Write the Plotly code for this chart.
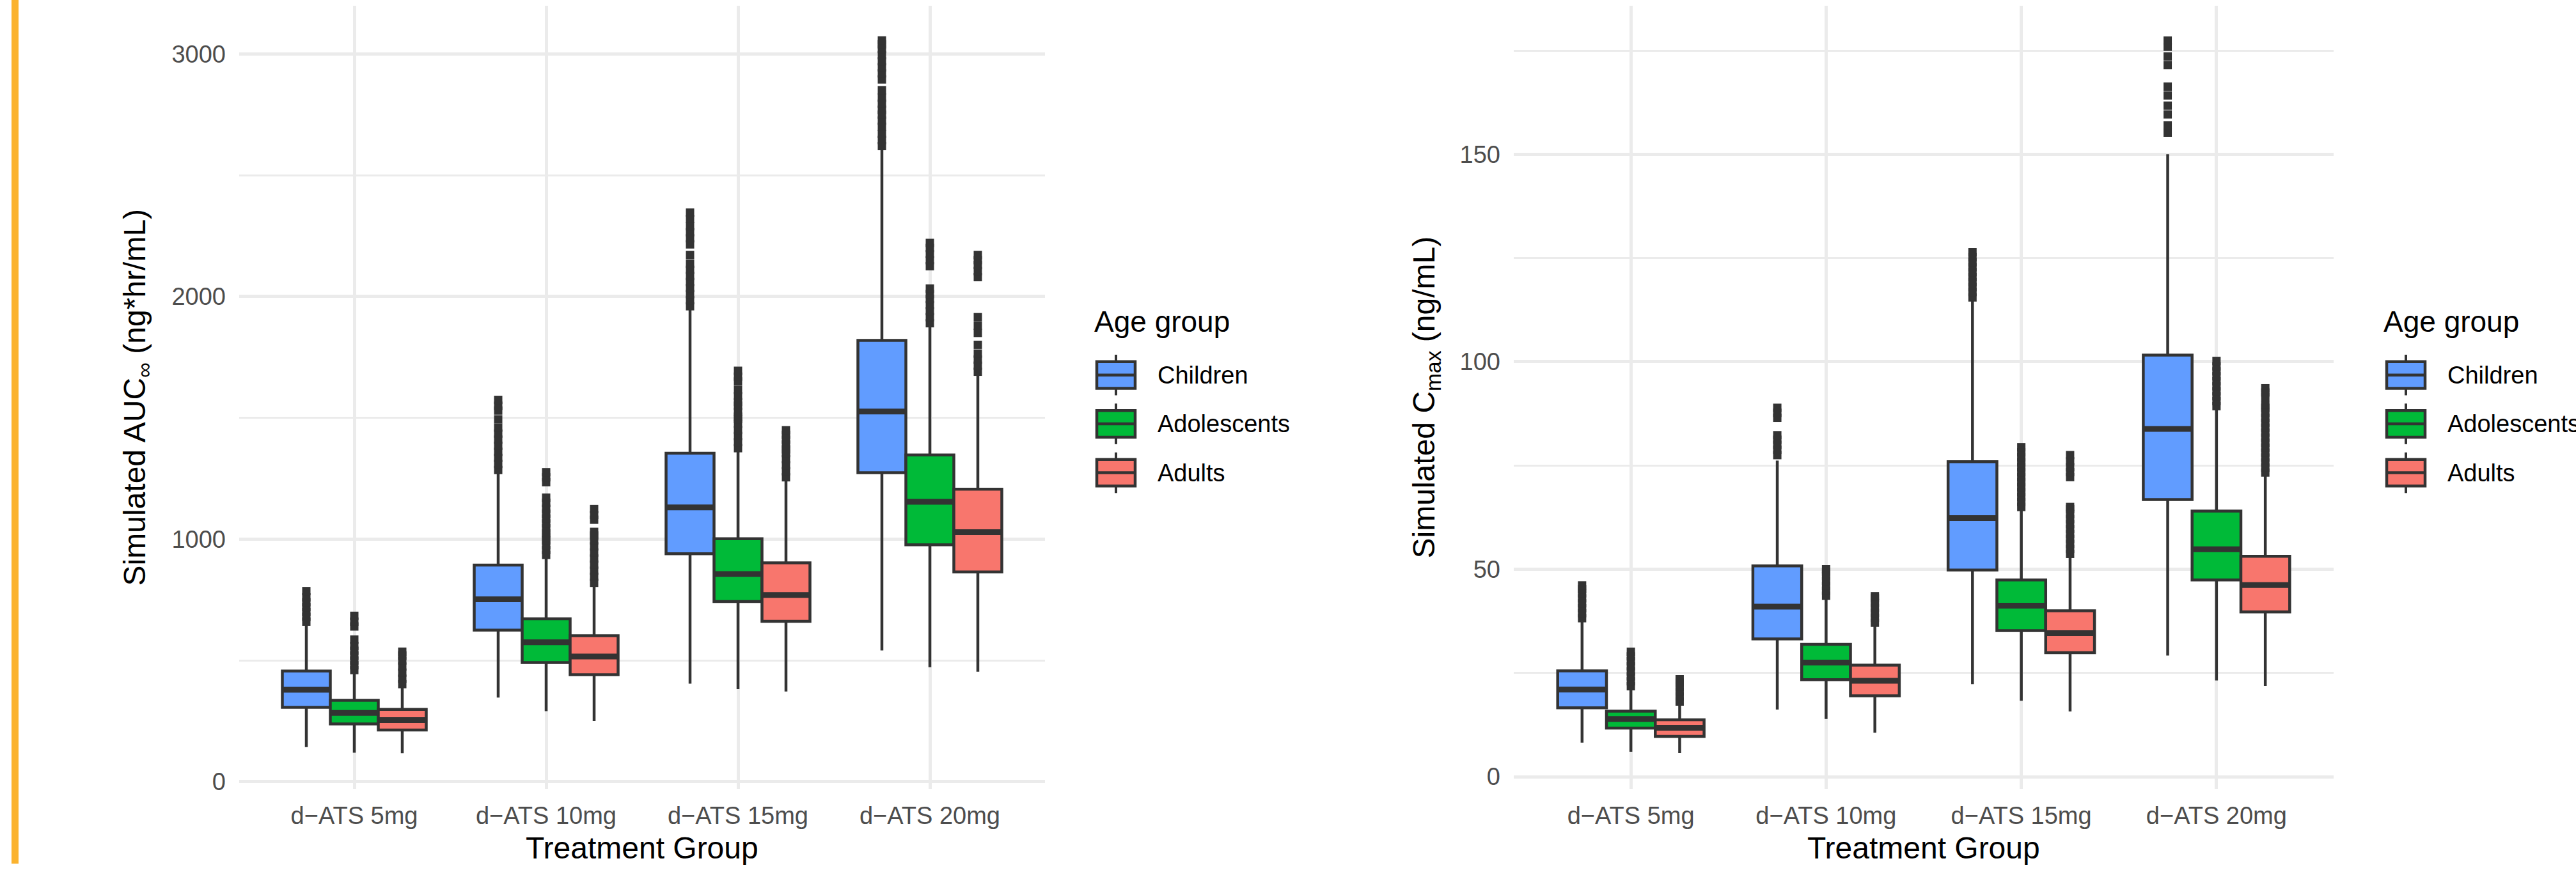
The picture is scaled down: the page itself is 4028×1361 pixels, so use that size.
import plotly.graph_objects as go

W, H = 4028, 1361

# ---------------- data ----------------
categories = ["d\u2212ATS 5mg", "d\u2212ATS 10mg", "d\u2212ATS 15mg", "d\u2212ATS 20mg"]
groups = ["Children", "Adolescents", "Adults"]
group_colors = ["#619CFF", "#00BA38", "#F8766D"]

# AUC (ng*hr/mL) box statistics, per group, per dose
auc_q1 = {"Children": [307, 625, 940, 1274], "Adolescents": [238, 491, 743, 977], "Adults": [213, 441, 661, 865]}
auc_median = {"Children": [379, 752, 1131, 1526], "Adolescents": [284, 575, 856, 1154], "Adults": [254, 516, 770, 1029]}
auc_q3 = {"Children": [456, 893, 1354, 1819], "Adolescents": [336, 672, 1002, 1347], "Adults": [298, 602, 902, 1206]}
auc_low = {"Children": [143, 347, 404, 541], "Adolescents": [120, 291, 382, 472], "Adults": [118, 250, 372, 454]}
auc_high = {"Children": [654, 1279, 1955, 2612], "Adolescents": [454, 931, 1370, 1881], "Adults": [397, 818, 1249, 1683]}

auc_out_children = [
    [660, 680, 700, 720, 740, 760, 786],
    [1285, 1310, 1335, 1360, 1385, 1410, 1435, 1460, 1494, 1530, 1550, 1574],
    [1960, 1985, 2010, 2035, 2060, 2085, 2110, 2135, 2171, 2215, 2240, 2265, 2290, 2320, 2346],
    [2620, 2645, 2670, 2700, 2725, 2750, 2770, 2795, 2820, 2850, 2895, 2920, 2945, 2970, 2995, 3020, 3040, 3056],
]
auc_out_adolescents = [
    [460, 480, 500, 520, 540, 560, 586, 640, 660, 684],
    [935, 955, 975, 995, 1010, 1025, 1045, 1065, 1085, 1105, 1125, 1150, 1171, 1235, 1255, 1276],
    [1375, 1400, 1425, 1450, 1475, 1495, 1505, 1525, 1550, 1565, 1590, 1615, 1650, 1670, 1694],
    [1890, 1915, 1940, 1965, 1990, 2010, 2033, 2125, 2150, 2175, 2200, 2221],
]
auc_out_adults = [
    [402, 425, 450, 475, 500, 520, 536],
    [820, 845, 870, 895, 920, 945, 970, 995, 1015, 1030, 1080, 1100, 1124],
    [1255, 1280, 1305, 1330, 1355, 1370, 1390, 1410, 1430, 1449],
    [1690, 1715, 1740, 1765, 1801, 1850, 1880, 1915, 2080, 2105, 2130, 2150, 2171],
]

# Cmax (ng/mL) box statistics
cmax_q1 = {"Children": [16.6, 33.2, 49.8, 66.8], "Adolescents": [11.7, 23.4, 35.2, 47.4], "Adults": [9.7, 19.5, 29.9, 39.7]}
cmax_median = {"Children": [21.0, 41.0, 62.3, 83.8], "Adolescents": [13.9, 27.5, 41.2, 54.8], "Adults": [11.8, 23.1, 34.6, 46.2]}
cmax_q3 = {"Children": [25.5, 50.8, 75.9, 101.6], "Adolescents": [15.8, 31.9, 47.4, 64.0], "Adults": [13.7, 26.9, 40.0, 53.1]}
cmax_low = {"Children": [8.2, 16.2, 22.3, 29.2], "Adolescents": [6.0, 13.9, 18.3, 23.2], "Adults": [5.7, 10.6, 15.7, 21.9]}
cmax_high = {"Children": [37.6, 76.2, 114.8, 150.0], "Adolescents": [21.2, 43.0, 64.4, 88.7], "Adults": [17.5, 36.5, 53.1, 72.7]}

cmax_out_children = [
    [38.2, 39.4, 40.6, 41.8, 43.0, 44.2, 45.2, 46.1],
    [77.5, 78.8, 80.0, 81.2, 82.3, 86.5, 87.7, 88.9],
    [115.5, 116.8, 118.0, 119.2, 120.4, 121.6, 122.8, 124.0, 125.2, 126.4],
    [155.2, 157.0, 159.6, 161.7, 164.2, 166.3, 171.5, 173.6, 175.9, 177.4],
]
cmax_out_adolescents = [
    [21.8, 23.0, 24.2, 25.4, 26.6, 27.8, 29.0, 30.1],
    [43.6, 44.8, 46.0, 47.2, 48.4, 49.4, 50.0],
    [65.0, 66.2, 67.4, 68.6, 69.8, 71.0, 72.2, 73.4, 74.6, 75.8, 77.0, 78.2, 79.4],
    [89.3, 90.5, 91.7, 92.9, 94.1, 95.3, 96.5, 97.7, 98.9, 100.2],
]
cmax_out_adults = [
    [18.1, 19.3, 20.5, 21.7, 22.7, 23.5],
    [37.1, 38.3, 39.5, 40.7, 41.9, 43.0, 43.5],
    [53.7, 54.9, 56.1, 57.3, 58.5, 59.7, 60.9, 62.1, 63.3, 64.5, 65.0, 72.2, 73.4, 74.6, 76.0, 77.5],
    [73.3, 74.5, 75.7, 76.9, 78.1, 79.3, 80.5, 81.7, 82.9, 84.1, 85.3, 86.5, 87.7, 88.9, 89.6, 91.5, 92.6, 93.6],
]

auc_outliers = {"Children": auc_out_children, "Adolescents": auc_out_adolescents, "Adults": auc_out_adults}
cmax_outliers = {"Children": cmax_out_children, "Adolescents": cmax_out_adolescents, "Adults": cmax_out_adults}

# ---------------- figure ----------------
DARK = "#333333"
GRID = "#EBEBEB"
FONT = "Liberation Sans"
BOXW = 0.25

fig = go.Figure()

panels = [
    ("x", "y", auc_q1, auc_median, auc_q3, auc_low, auc_high, auc_outliers),
    ("x2", "y2", cmax_q1, cmax_median, cmax_q3, cmax_low, cmax_high, cmax_outliers),
]

for xa, ya, q1, med, q3, lo, hi, outs in panels:
    for gi, g in enumerate(groups):
        off = (gi - 1) * BOXW
        pos = [i + 1 + off for i in range(len(categories))]
        fig.add_trace(go.Box(
            x=pos, q1=q1[g], median=med[g], q3=q3[g],
            lowerfence=lo[g], upperfence=hi[g],
            width=BOXW, fillcolor=group_colors[gi],
            line=dict(color=DARK, width=4.5), whiskerwidth=0,
            boxpoints=False, name=g, showlegend=False,
            xaxis=xa, yaxis=ya, hoverinfo="skip",
        ))
        # thick median bars
        mx, my = [], []
        for p, m in zip(pos, med[g]):
            mx += [p - BOXW / 2, p + BOXW / 2, None]
            my += [m, m, None]
        fig.add_trace(go.Scatter(x=mx, y=my, mode="lines",
                                 line=dict(color=DARK, width=9),
                                 xaxis=xa, yaxis=ya, showlegend=False, hoverinfo="skip"))
        # outliers
        ox, oy = [], []
        for p, vals in zip(pos, outs[g]):
            ox += [p] * len(vals)
            oy += vals
        fig.add_trace(go.Scatter(x=ox, y=oy, mode="markers",
                                 marker=dict(symbol="square", size=13, color=DARK, line=dict(width=0)),
                                 xaxis=xa, yaxis=ya, showlegend=False, hoverinfo="skip"))

ydom = [(H - 1243) / H, (H - 9) / H]
xaxis_common = dict(range=[0.4, 4.6], tickmode="array", tickvals=[1, 2, 3, 4], ticktext=categories,
                    showgrid=True, gridcolor=GRID, gridwidth=5, zeroline=False, showline=False,
                    ticks="", tickfont=dict(family=FONT, size=38, color="#4D4D4D"),
                    ticklabelstandoff=16, fixedrange=True)
yaxis_common = dict(showgrid=True, gridcolor=GRID, gridwidth=5, zeroline=False, showline=False,
                    ticks="", tickfont=dict(family=FONT, size=38, color="#4D4D4D"),
                    ticklabelstandoff=20, domain=ydom)

fig.update_layout(
    width=W, height=H, margin=dict(l=0, r=0, t=0, b=0),
    paper_bgcolor="white", plot_bgcolor="white",
    boxmode="overlay", showlegend=False,
    font=dict(family=FONT),
    xaxis=dict(**xaxis_common, domain=[374 / W, 1634 / W], anchor="y"),
    xaxis2=dict(**xaxis_common, domain=[2367 / W, 3649 / W], anchor="y2"),
    yaxis=dict(**yaxis_common, range=[-28.8, 3198.8], tick0=0, dtick=1000, anchor="x",
               minor=dict(tick0=0, dtick=500, showgrid=True, gridcolor=GRID, gridwidth=2.5)),
    yaxis2=dict(**yaxis_common, range=[-2.9, 185.8], tick0=0, dtick=50, anchor="x2",
                minor=dict(tick0=0, dtick=25, showgrid=True, gridcolor=GRID, gridwidth=2.5)),
)

def px(x):
    return x / W

def py(y):
    return 1 - y / H

shapes = []
annotations = []

# orange accent bar at the left edge
shapes.append(dict(type="rect", xref="paper", yref="paper", x0=px(18), x1=px(29), y0=0, y1=1,
                   fillcolor="#FBB32F", line=dict(width=0), layer="below"))

# axis titles
for cx, ytitle, ty in [(1004, "Simulated AUC<sub>\u221e</sub> (ng*hr/mL)", 214),
                       (3008, "Simulated C<sub>max</sub> (ng/mL)", 2230)]:
    annotations.append(dict(text="Treatment Group", x=px(cx), y=py(1336), xref="paper", yref="paper",
                            xanchor="center", yanchor="middle", showarrow=False,
                            font=dict(family=FONT, size=48, color="black")))
    annotations.append(dict(text=ytitle, x=px(ty), y=py(626), xref="paper", yref="paper",
                            xanchor="center", yanchor="middle", showarrow=False, textangle=-90,
                            font=dict(family=FONT, size=48, color="black")))

# manual legends (ggplot-style keys)
for tx, kx0 in [(1709, 1715), (3725, 3732)]:
    annotations.append(dict(text="Age group", x=px(tx), y=py(507), xref="paper", yref="paper",
                            xanchor="left", yanchor="middle", showarrow=False,
                            font=dict(family=FONT, size=46, color="black")))
    kx1 = kx0 + 60
    kc = (kx0 + kx1) / 2
    for gi, g in enumerate(groups):
        cy = 591 + gi * 77
        top, bot = cy - 21, cy + 21
        shapes.append(dict(type="line", xref="paper", yref="paper", x0=px(kc), x1=px(kc),
                           y0=py(cy - 32), y1=py(top), line=dict(color=DARK, width=4)))
        shapes.append(dict(type="line", xref="paper", yref="paper", x0=px(kc), x1=px(kc),
                           y0=py(bot), y1=py(cy + 32), line=dict(color=DARK, width=4)))
        shapes.append(dict(type="rect", xref="paper", yref="paper", x0=px(kx0), x1=px(kx1),
                           y0=py(bot), y1=py(top), fillcolor=group_colors[gi],
                           line=dict(color=DARK, width=4.5)))
        shapes.append(dict(type="line", xref="paper", yref="paper", x0=px(kx0), x1=px(kx1),
                           y0=py(cy), y1=py(cy), line=dict(color=DARK, width=4.5)))
        annotations.append(dict(text=g, x=px(kx0 + 93), y=py(cy), xref="paper", yref="paper",
                                xanchor="left", yanchor="middle", showarrow=False,
                                font=dict(family=FONT, size=38, color="black")))

fig.update_layout(shapes=shapes, annotations=annotations)

fig.write_html("out.html")
